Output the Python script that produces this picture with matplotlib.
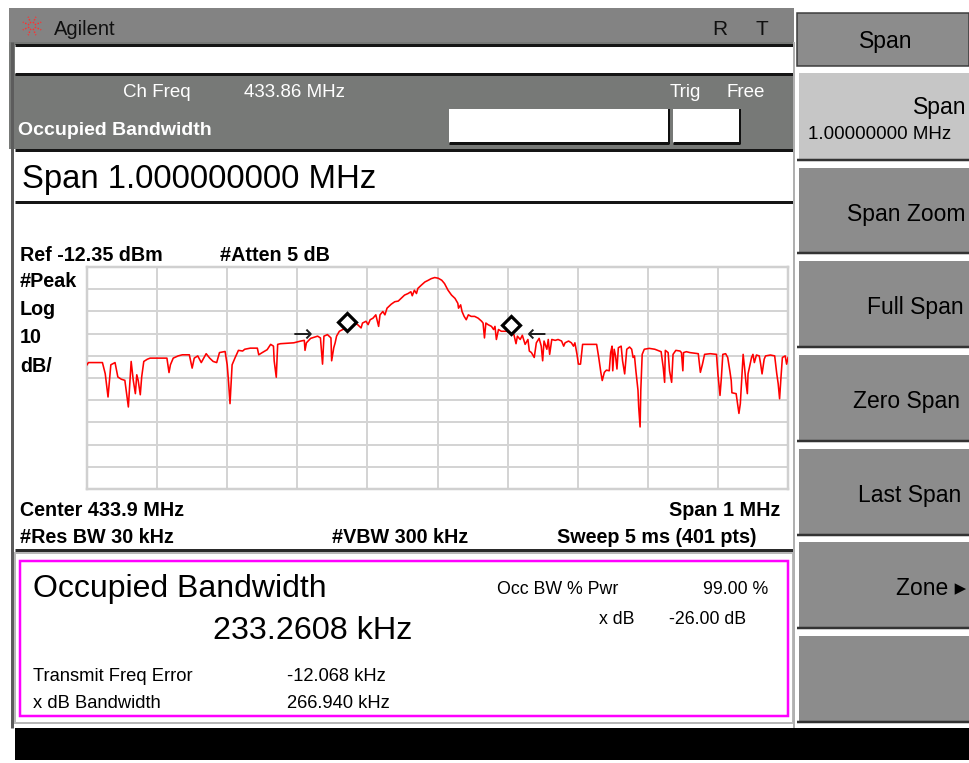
import math
import matplotlib
matplotlib.use("Agg")
import matplotlib.pyplot as plt
from matplotlib.patches import Rectangle

# ---------------- data ----------------
center_mhz = 433.9
span_khz = 1000
ref_level_dbm = -12.35
db_per_div = 10

freq_offset_khz = [
    -500, -498, -478, -474, -470, -466, -460, -456, -451, -446, -441, -437, -434, -431, -429, -427, -424, -422, -419, -414, -410,
    -386, -383, -381, -377, -370, -364, -354, -350, -347, -342, -337, -330, -325, -320, -315, -311, -303, -300, -298, -296, -293,
    -289, -284, -278, -275, -267, -257, -255, -250, -243,
    -238, -234, -233, -230, -228, -224, -205, -195, -190, -189, -187, -181, -171, -167, -164, -162, -157, -152, -151, -148,
    -146, -144, -140, -135, -131, -123, -119, -114, -109, -107, -102, -99, -96, -92, -88, -84, -82, -78, -75, -72,
    -66, -61, -56, -52, -47, -42, -38, -36, -33, -30, -28, -23, -18, -13, -9, -4, 1,
    6, 10, 15, 20, 25, 29, 30, 33, 35, 38, 41, 44, 48, 53, 58, 63, 65, 67, 69, 72,
    77, 80, 82, 84, 87, 91, 99, 103, 109, 112, 114, 118, 121, 125, 129, 131, 134, 138, 141, 145,
    148, 150, 152, 156, 158, 160, 163, 168, 172, 177, 180, 182, 187, 191, 194, 196, 199, 201, 204, 207,
    227, 230, 233, 235, 238, 241, 245, 247, 249,
    250, 252, 254, 256, 258, 262, 264, 267, 270, 274, 277, 279, 281, 283, 286, 287, 289, 290, 292, 295,
    302, 310, 314, 319, 322, 324, 325, 329, 331, 334, 336, 340, 346, 348, 350, 351, 355, 360, 372, 375,
    378, 381, 389, 398, 400, 403, 405, 407, 411, 414, 417, 419, 420, 426, 428, 430, 432, 435, 436, 438,
    440, 442, 443, 446, 448, 450, 452, 455, 459, 461, 463, 466, 468, 475, 481, 484, 486, 488, 490, 492,
    496, 498, 500,
]
level_dbm = [
    -56.4, -55.4, -55.4, -60.4, -70.9, -56.4, -55.4, -61.9, -62.9, -63.4, -75.4, -54.9, -63.4, -69.4, -60.9, -63.4, -69.9, -61.9, -54.9, -53.9, -53.4,
    -53.4, -59.9, -56.4, -53.4, -52.4, -51.9, -51.9, -57.9, -53.4, -52.4, -55.4, -51.4, -53.4, -54.9, -55.4, -50.9, -50.4, -56.4, -64.4, -73.9, -56.4,
    -53.4, -49.9, -50.2, -49.4, -48.9, -48.9, -51.9, -50.9, -49.6,
    -47.2, -48.0, -54.6, -62.0, -47.2, -46.9, -46.5, -45.7, -45.4, -49.9, -46.5, -44.5, -43.5, -44.3, -56.1, -43.5, -42.8, -44.3, -54.6, -48.7,
    -46.5, -43.5, -41.3, -40.5, -39.8, -39.1, -37.6, -38.3, -39.8, -37.6, -36.8, -38.3, -36.1, -35.4, -33.9, -39.1, -33.9, -32.4, -33.9, -30.9,
    -29.1, -28.0, -27.7, -26.5, -25.0, -24.3, -23.5, -25.3, -22.8, -24.3, -22.0, -20.5, -19.1, -18.3, -17.6, -17.1, -17.4,
    -18.3, -19.8, -22.8, -25.0, -26.5, -28.7, -30.9, -29.4, -32.4, -34.6, -36.1, -33.9, -34.6, -34.6, -35.4, -36.8, -37.6, -44.3, -37.6, -38.3,
    -39.1, -40.5, -39.1, -45.0, -40.5, -41.3, -41.3, -42.0, -42.8, -46.9, -43.5, -45.0, -43.1, -47.2, -45.0, -50.2, -50.9, -53.1, -46.5, -44.5,
    -48.0, -54.6, -45.7, -49.4, -45.0, -51.7, -45.0, -45.4, -45.0, -45.7, -48.0, -46.5, -45.7, -46.5, -48.0, -46.5, -51.7, -56.1, -56.1, -47.2,
    -47.2, -53.1, -59.8, -63.5, -59.8, -58.8, -59.1, -50.9, -48.0,
    -59.1, -49.4, -52.4, -58.3, -48.7, -48.0, -54.6, -60.5, -49.4, -48.4, -49.4, -53.1, -52.4, -59.1, -67.9, -75.4, -84.4, -67.9, -51.7, -49.4,
    -49.0, -49.4, -49.9, -50.5, -57.6, -64.3, -49.9, -50.9, -59.1, -64.3, -51.7, -49.9, -50.2, -50.9, -59.1, -50.9, -50.5, -50.9, -51.4, -59.8,
    -56.1, -51.7, -51.4, -51.7, -60.5, -70.2, -62.0, -51.7, -51.4, -53.1, -59.1, -63.5, -69.0, -69.4, -73.9, -78.3, -73.9, -56.8, -51.7, -57.6,
    -64.3, -69.4, -60.5, -56.1, -53.1, -51.7, -55.4, -52.0, -52.4, -56.1, -60.5, -53.9, -52.4, -52.0, -52.4, -60.5, -64.9, -71.7, -62.0, -53.1,
    -52.4, -56.1, -53.1,
]
assert len(freq_offset_khz) == len(level_dbm)

marker_offset_khz = [-128.7, 104.6]
marker_level_dbm = [-37.1, -38.5]
arrow_offset_khz = [-192, 142]
arrow_level_dbm = [-43.0, -43.0]
arrow_glyphs = ["\u2192", "\u2190"]

softkey_title = "Span"
softkey_labels = ["Span", "Span Zoom", "Full Span", "Zero Span", "Last Span", "Zone \u25B8", ""]

# ---------------- figure ----------------
W, H = 969, 763
plt.rcParams["font.family"] = ["Liberation Sans", "DejaVu Sans"]
fig = plt.figure(figsize=(W / 100, H / 100), dpi=100)
fig.patch.set_facecolor("white")
bg = fig.add_axes([0, 0, 1, 1])
bg.set_xlim(0, W)
bg.set_ylim(H, 0)
bg.axis("off")

PX = 0.72  # px -> pt


def rect(x0, y0, x1, y1, fc, ec="none", lw=0, z=1):
    bg.add_patch(Rectangle((x0, y0), x1 - x0, y1 - y0, facecolor=fc,
                           edgecolor=ec, linewidth=lw * PX, zorder=z))


def line(xs, ys, color, lw, z=2, **kw):
    bg.plot(xs, ys, color=color, lw=lw * PX, solid_capstyle="butt", zorder=z, **kw)


def txt(x, y, s, size, color="black", ha="left", weight="normal", family=None, z=5):
    kw = {}
    if family is not None:
        kw["family"] = family
    bg.text(x, y, s, fontsize=size, color=color, ha=ha, va="baseline",
            fontweight=weight, zorder=z, **kw)


# title bar
rect(9, 8, 794, 42, "#838383")
txt(54, 35, "Agilent", 14.5, color="#101010")
txt(712, 35, "R", 15, color="#101010")
txt(756, 35, "T", 15, color="#101010")
# Agilent spark logo
for k in range(8):
    a = k * math.pi / 4 + math.pi / 8
    line([32 + 3 * math.cos(a), 32 + 10 * math.cos(a)],
         [26 + 3 * math.sin(a), 26 + 10 * math.sin(a)], "#ff3030", 1.5, z=3, linestyle=(0, (1, 1)))

# entry bar
rect(9, 42, 794, 77, "#777977")
rect(15, 45, 793, 74, "white")
line([15, 793], [45, 45], "#151515", 3)
line([15, 793], [74, 74], "#151515", 3)

# status panel
rect(9, 77, 794, 149, "#777977")
txt(123, 97, "Ch Freq", 13.5, color="white")
txt(244, 97, "433.86 MHz", 13.5, color="white")
txt(670, 97, "Trig", 13.5, color="white")
txt(727, 97, "Free", 13.5, color="white")
txt(18, 135, "Occupied Bandwidth", 14, color="white", weight="bold")
rect(449, 109, 669, 143, "white")
line([449, 669], [143, 143], "#101010", 3)
line([669, 669], [109, 144], "#101010", 2)
rect(673, 109, 740, 143, "white")
line([673, 740], [143, 143], "#101010", 3)
line([740, 740], [109, 144], "#101010", 2)

# span entry
rect(15, 150, 793, 201, "white")
line([15, 793], [150, 150], "#151515", 3)
line([15, 793], [202, 202], "#151515", 3)
txt(22, 188, "Span 1.000000000 MHz", 23.7)

# chart area
rect(15, 204, 793, 549, "white")
line([15, 793], [550, 550], "#2a2a2a", 3)
line([12.5, 12.5], [42, 728], "#5c5c5c", 3)
line([794.5, 794.5], [42, 728], "#b0b0b0", 2)

B = 14.2
txt(20, 261, "Ref -12.35 dBm", B, weight="bold")
txt(220, 261, "#Atten 5 dB", B, weight="bold")
txt(20, 287, "#Peak", B, weight="bold")
txt(20, 315, "Log", B, weight="bold")
txt(20, 343, "10", B, weight="bold")
txt(20, 372, "dB/", B, weight="bold")
txt(20, 516, "Center 433.9 MHz", B, weight="bold")
txt(780, 516, "Span 1 MHz", B, weight="bold", ha="right")
txt(20, 543, "#Res BW 30 kHz", B, weight="bold")
txt(332, 543, "#VBW 300 kHz", B, weight="bold")
txt(757, 543, "Sweep 5 ms (401 pts)", B, weight="bold", ha="right")

# measurement panel
rect(15, 553, 793, 723, "white", ec="#b8b8b8", lw=2)
rect(20, 561, 788, 716, "white", ec="#ff00ff", lw=2.5, z=2)
txt(33, 597, "Occupied Bandwidth", 23)
txt(213, 639, "233.2608 kHz", 23.3)
txt(497, 594, "Occ BW % Pwr", 12.8)
txt(768, 594, "99.00 %", 12.8, ha="right")
txt(635, 624, "x dB", 12.8, ha="right")
txt(669, 624, "-26.00 dB", 12.8)
txt(33, 681, "Transmit Freq Error", 13.2)
txt(287, 681, "-12.068 kHz", 13.2)
txt(33, 708, "x dB Bandwidth", 13.2)
txt(287, 708, "266.940 kHz", 13.2)

# black status line
rect(15, 728, 969, 760, "black")

# softkeys
rect(797, 13, 969, 66, "#8c8c8c", ec="#3a3a3a", lw=1.5)
txt(886, 48, softkey_title, 16.5, ha="center")
btn_rows = [(71, 161), (166, 254), (259, 348), (353, 442), (447, 536), (540, 629), (634, 723)]
for i, (y0, y1) in enumerate(btn_rows):
    fc = "#c6c6c6" if i == 0 else "#8c8c8c"
    rect(797, y0, 969, y1, fc)
    line([797, 969], [y0 + 1, y0 + 1], "white", 2, z=3)
    line([798, 798], [y0, y1], "white", 2, z=3)
    line([797, 969], [y1 - 1, y1 - 1], "#333333", 2.5, z=3)
txt(966, 114, softkey_labels[0], 16.5, ha="right")
txt(808, 139, "1.00000000 MHz", 13.5)
txt(966, 221, softkey_labels[1], 16.5, ha="right")
txt(915, 314, softkey_labels[2], 16.5, ha="center")
txt(907, 408, softkey_labels[3], 16.5, ha="center")
txt(910, 502, softkey_labels[4], 16.5, ha="center")
txt(966, 595, softkey_labels[5], 16.5, ha="right", family=["Liberation Sans", "DejaVu Sans"])

# ---------------- graticule ----------------
gx0, gx1, gy0, gy1 = 87, 788, 267, 489
ax = fig.add_axes([gx0 / W, 1 - gy1 / H, (gx1 - gx0) / W, (gy1 - gy0) / H])
ax.set_facecolor("white")
half = span_khz / 2
ax.set_xlim(-half, half)
ax.set_ylim(ref_level_dbm - 10 * db_per_div, ref_level_dbm)
ax.set_xticks([-half + i * span_khz / 10 for i in range(11)])
ax.set_yticks([ref_level_dbm - i * db_per_div for i in range(11)])
ax.grid(True, color="#d4d4d4", lw=2 * PX)
ax.tick_params(length=0, labelbottom=False, labelleft=False)
for s in ax.spines.values():
    s.set_color("#d0d0d0")
    s.set_linewidth(2.5 * PX)
ax.plot(freq_offset_khz, level_dbm, color="#ff0000", lw=1.6 * PX, zorder=3)
ax.plot(marker_offset_khz, marker_level_dbm, "D", ms=9.5, mfc="white", mec="black",
        mew=2.3, zorder=4)
for xo, yl, g in zip(arrow_offset_khz, arrow_level_dbm, arrow_glyphs):
    ax.text(xo, yl, g, fontsize=17, color="#202020", ha="center", va="center",
            family=["DejaVu Sans"], zorder=5)

fig.savefig("out.png", dpi=100, facecolor="white")
